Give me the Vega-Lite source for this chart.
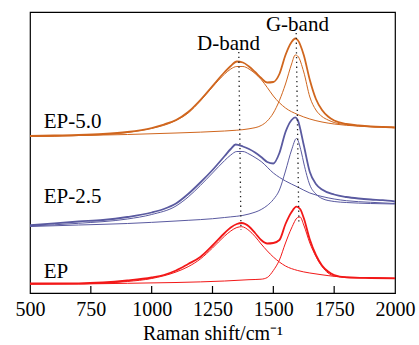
{
  "$schema": "https://vega.github.io/schema/vega-lite/v6.json",
  "width": 365,
  "height": 281,
  "autosize": {"type": "none"},
  "padding": {"left": 30, "top": 12, "right": 24, "bottom": 52},
  "background": "white",
  "config": {
    "view": {"stroke": "#000", "strokeWidth": 1.2},
    "font": "Liberation Serif",
    "axis": {"labelFont": "Liberation Serif", "titleFont": "Liberation Serif"},
    "text": {"font": "Liberation Serif"}
  },
  "datasets": {
    "spectra": [
      {"s":"EP-5.0","k":"raw","x":500,"v":157},{"s":"EP-5.0","k":"raw","x":600,"v":157.5},{"s":"EP-5.0","k":"raw","x":700,"v":158},{"s":"EP-5.0","k":"raw","x":800,"v":159},{"s":"EP-5.0","k":"raw","x":900,"v":161},{"s":"EP-5.0","k":"raw","x":1000,"v":165},{"s":"EP-5.0","k":"raw","x":1050,"v":168.5},{"s":"EP-5.0","k":"raw","x":1100,"v":173},{"s":"EP-5.0","k":"raw","x":1150,"v":181},{"s":"EP-5.0","k":"raw","x":1200,"v":193},{"s":"EP-5.0","k":"raw","x":1250,"v":207},{"s":"EP-5.0","k":"raw","x":1300,"v":221},{"s":"EP-5.0","k":"raw","x":1325,"v":227},{"s":"EP-5.0","k":"raw","x":1350,"v":231.5},{"s":"EP-5.0","k":"raw","x":1375,"v":230.5},{"s":"EP-5.0","k":"raw","x":1400,"v":226.5},{"s":"EP-5.0","k":"raw","x":1425,"v":221},{"s":"EP-5.0","k":"raw","x":1450,"v":215},{"s":"EP-5.0","k":"raw","x":1475,"v":210.5},{"s":"EP-5.0","k":"raw","x":1500,"v":211},{"s":"EP-5.0","k":"raw","x":1525,"v":219},{"s":"EP-5.0","k":"raw","x":1550,"v":238},{"s":"EP-5.0","k":"raw","x":1575,"v":251},{"s":"EP-5.0","k":"raw","x":1590,"v":254.5},{"s":"EP-5.0","k":"raw","x":1600,"v":253},{"s":"EP-5.0","k":"raw","x":1625,"v":238},{"s":"EP-5.0","k":"raw","x":1650,"v":213},{"s":"EP-5.0","k":"raw","x":1675,"v":194},{"s":"EP-5.0","k":"raw","x":1700,"v":183},{"s":"EP-5.0","k":"raw","x":1725,"v":176.5},{"s":"EP-5.0","k":"raw","x":1750,"v":172.5},{"s":"EP-5.0","k":"raw","x":1800,"v":169},{"s":"EP-5.0","k":"raw","x":1850,"v":167.5},{"s":"EP-5.0","k":"raw","x":1900,"v":166.5},{"s":"EP-5.0","k":"raw","x":1950,"v":166},{"s":"EP-5.0","k":"raw","x":2000,"v":165.7},

      {"s":"EP-5.0","k":"D","x":500,"v":156.5},{"s":"EP-5.0","k":"D","x":700,"v":157.5},{"s":"EP-5.0","k":"D","x":900,"v":160.5},{"s":"EP-5.0","k":"D","x":1000,"v":164.5},{"s":"EP-5.0","k":"D","x":1100,"v":172.5},{"s":"EP-5.0","k":"D","x":1150,"v":180},{"s":"EP-5.0","k":"D","x":1200,"v":192},{"s":"EP-5.0","k":"D","x":1250,"v":206},{"s":"EP-5.0","k":"D","x":1300,"v":219},{"s":"EP-5.0","k":"D","x":1325,"v":224},{"s":"EP-5.0","k":"D","x":1350,"v":226.5},{"s":"EP-5.0","k":"D","x":1375,"v":226.5},{"s":"EP-5.0","k":"D","x":1400,"v":224},{"s":"EP-5.0","k":"D","x":1425,"v":219.5},{"s":"EP-5.0","k":"D","x":1450,"v":213.5},{"s":"EP-5.0","k":"D","x":1475,"v":205.5},{"s":"EP-5.0","k":"D","x":1500,"v":197},{"s":"EP-5.0","k":"D","x":1550,"v":185},{"s":"EP-5.0","k":"D","x":1600,"v":178.5},{"s":"EP-5.0","k":"D","x":1650,"v":174},{"s":"EP-5.0","k":"D","x":1700,"v":171},{"s":"EP-5.0","k":"D","x":1750,"v":169},{"s":"EP-5.0","k":"D","x":1800,"v":167.7},{"s":"EP-5.0","k":"D","x":1900,"v":166.3},{"s":"EP-5.0","k":"D","x":2000,"v":165},

      {"s":"EP-5.0","k":"G","x":500,"v":156.5},{"s":"EP-5.0","k":"G","x":700,"v":157.5},{"s":"EP-5.0","k":"G","x":900,"v":158.5},{"s":"EP-5.0","k":"G","x":1100,"v":160},{"s":"EP-5.0","k":"G","x":1300,"v":162},{"s":"EP-5.0","k":"G","x":1350,"v":162.8},{"s":"EP-5.0","k":"G","x":1400,"v":164.2},{"s":"EP-5.0","k":"G","x":1450,"v":167.5},{"s":"EP-5.0","k":"G","x":1475,"v":172},{"s":"EP-5.0","k":"G","x":1500,"v":180},{"s":"EP-5.0","k":"G","x":1525,"v":192.5},{"s":"EP-5.0","k":"G","x":1550,"v":209},{"s":"EP-5.0","k":"G","x":1575,"v":229},{"s":"EP-5.0","k":"G","x":1590,"v":238},{"s":"EP-5.0","k":"G","x":1600,"v":237},{"s":"EP-5.0","k":"G","x":1625,"v":221},{"s":"EP-5.0","k":"G","x":1650,"v":196},{"s":"EP-5.0","k":"G","x":1675,"v":183},{"s":"EP-5.0","k":"G","x":1700,"v":176.5},{"s":"EP-5.0","k":"G","x":1725,"v":173},{"s":"EP-5.0","k":"G","x":1750,"v":170.5},{"s":"EP-5.0","k":"G","x":1800,"v":168.5},{"s":"EP-5.0","k":"G","x":1850,"v":167.3},{"s":"EP-5.0","k":"G","x":1900,"v":166.5},{"s":"EP-5.0","k":"G","x":2000,"v":165.7},

      {"s":"EP-2.5","k":"raw","x":500,"v":67.7},{"s":"EP-2.5","k":"raw","x":600,"v":69.7},{"s":"EP-2.5","k":"raw","x":700,"v":71.5},{"s":"EP-2.5","k":"raw","x":800,"v":73},{"s":"EP-2.5","k":"raw","x":900,"v":76},{"s":"EP-2.5","k":"raw","x":1000,"v":80.5},{"s":"EP-2.5","k":"raw","x":1050,"v":84},{"s":"EP-2.5","k":"raw","x":1100,"v":89.5},{"s":"EP-2.5","k":"raw","x":1150,"v":99},{"s":"EP-2.5","k":"raw","x":1200,"v":110.5},{"s":"EP-2.5","k":"raw","x":1250,"v":123},{"s":"EP-2.5","k":"raw","x":1300,"v":137},{"s":"EP-2.5","k":"raw","x":1325,"v":144},{"s":"EP-2.5","k":"raw","x":1345,"v":148.5},{"s":"EP-2.5","k":"raw","x":1375,"v":146.5},{"s":"EP-2.5","k":"raw","x":1400,"v":144},{"s":"EP-2.5","k":"raw","x":1425,"v":140.5},{"s":"EP-2.5","k":"raw","x":1450,"v":136},{"s":"EP-2.5","k":"raw","x":1475,"v":131},{"s":"EP-2.5","k":"raw","x":1500,"v":129.5},{"s":"EP-2.5","k":"raw","x":1525,"v":140},{"s":"EP-2.5","k":"raw","x":1550,"v":161},{"s":"EP-2.5","k":"raw","x":1575,"v":173},{"s":"EP-2.5","k":"raw","x":1590,"v":175.7},{"s":"EP-2.5","k":"raw","x":1600,"v":173},{"s":"EP-2.5","k":"raw","x":1625,"v":148},{"s":"EP-2.5","k":"raw","x":1650,"v":121},{"s":"EP-2.5","k":"raw","x":1675,"v":109},{"s":"EP-2.5","k":"raw","x":1700,"v":103.5},{"s":"EP-2.5","k":"raw","x":1750,"v":98.5},{"s":"EP-2.5","k":"raw","x":1800,"v":96},{"s":"EP-2.5","k":"raw","x":1850,"v":94.5},{"s":"EP-2.5","k":"raw","x":1900,"v":93.5},{"s":"EP-2.5","k":"raw","x":1950,"v":92.8},{"s":"EP-2.5","k":"raw","x":2000,"v":91.5},

      {"s":"EP-2.5","k":"D","x":500,"v":67},{"s":"EP-2.5","k":"D","x":700,"v":69.7},{"s":"EP-2.5","k":"D","x":900,"v":74},{"s":"EP-2.5","k":"D","x":1000,"v":78.5},{"s":"EP-2.5","k":"D","x":1100,"v":87},{"s":"EP-2.5","k":"D","x":1150,"v":96},{"s":"EP-2.5","k":"D","x":1200,"v":107.5},{"s":"EP-2.5","k":"D","x":1250,"v":120},{"s":"EP-2.5","k":"D","x":1300,"v":132.5},{"s":"EP-2.5","k":"D","x":1325,"v":138},{"s":"EP-2.5","k":"D","x":1350,"v":141.5},{"s":"EP-2.5","k":"D","x":1375,"v":141.5},{"s":"EP-2.5","k":"D","x":1400,"v":139},{"s":"EP-2.5","k":"D","x":1425,"v":135.5},{"s":"EP-2.5","k":"D","x":1450,"v":131.5},{"s":"EP-2.5","k":"D","x":1500,"v":120},{"s":"EP-2.5","k":"D","x":1550,"v":112},{"s":"EP-2.5","k":"D","x":1600,"v":106},{"s":"EP-2.5","k":"D","x":1650,"v":100},{"s":"EP-2.5","k":"D","x":1700,"v":96.5},{"s":"EP-2.5","k":"D","x":1750,"v":94},{"s":"EP-2.5","k":"D","x":1800,"v":92.3},{"s":"EP-2.5","k":"D","x":1900,"v":90.7},{"s":"EP-2.5","k":"D","x":2000,"v":89.5},

      {"s":"EP-2.5","k":"G","x":500,"v":66.5},{"s":"EP-2.5","k":"G","x":700,"v":68},{"s":"EP-2.5","k":"G","x":900,"v":69.5},{"s":"EP-2.5","k":"G","x":1100,"v":72},{"s":"EP-2.5","k":"G","x":1300,"v":75.5},{"s":"EP-2.5","k":"G","x":1400,"v":79},{"s":"EP-2.5","k":"G","x":1450,"v":83.5},{"s":"EP-2.5","k":"G","x":1475,"v":87.5},{"s":"EP-2.5","k":"G","x":1500,"v":93.5},{"s":"EP-2.5","k":"G","x":1525,"v":103},{"s":"EP-2.5","k":"G","x":1550,"v":122},{"s":"EP-2.5","k":"G","x":1575,"v":143},{"s":"EP-2.5","k":"G","x":1595,"v":154.5},{"s":"EP-2.5","k":"G","x":1615,"v":141},{"s":"EP-2.5","k":"G","x":1625,"v":130},{"s":"EP-2.5","k":"G","x":1650,"v":108},{"s":"EP-2.5","k":"G","x":1675,"v":99},{"s":"EP-2.5","k":"G","x":1700,"v":94.5},{"s":"EP-2.5","k":"G","x":1750,"v":91.5},{"s":"EP-2.5","k":"G","x":1800,"v":90.5},{"s":"EP-2.5","k":"G","x":1900,"v":89.5},{"s":"EP-2.5","k":"G","x":2000,"v":89},

      {"s":"EP","k":"raw","x":500,"v":9.7},{"s":"EP","k":"raw","x":600,"v":9.7},{"s":"EP","k":"raw","x":700,"v":9.7},{"s":"EP","k":"raw","x":800,"v":10.5},{"s":"EP","k":"raw","x":900,"v":12.5},{"s":"EP","k":"raw","x":1000,"v":15.5},{"s":"EP","k":"raw","x":1050,"v":18},{"s":"EP","k":"raw","x":1100,"v":22.5},{"s":"EP","k":"raw","x":1150,"v":29},{"s":"EP","k":"raw","x":1200,"v":36},{"s":"EP","k":"raw","x":1250,"v":47.5},{"s":"EP","k":"raw","x":1300,"v":60},{"s":"EP","k":"raw","x":1325,"v":65.5},{"s":"EP","k":"raw","x":1350,"v":69},{"s":"EP","k":"raw","x":1370,"v":70},{"s":"EP","k":"raw","x":1400,"v":66.5},{"s":"EP","k":"raw","x":1425,"v":60},{"s":"EP","k":"raw","x":1450,"v":53},{"s":"EP","k":"raw","x":1475,"v":49.5},{"s":"EP","k":"raw","x":1500,"v":50},{"s":"EP","k":"raw","x":1525,"v":53},{"s":"EP","k":"raw","x":1550,"v":69},{"s":"EP","k":"raw","x":1575,"v":81},{"s":"EP","k":"raw","x":1595,"v":86.3},{"s":"EP","k":"raw","x":1610,"v":84},{"s":"EP","k":"raw","x":1625,"v":75},{"s":"EP","k":"raw","x":1650,"v":53.5},{"s":"EP","k":"raw","x":1675,"v":38},{"s":"EP","k":"raw","x":1700,"v":27.5},{"s":"EP","k":"raw","x":1725,"v":21.5},{"s":"EP","k":"raw","x":1750,"v":18},{"s":"EP","k":"raw","x":1800,"v":15.7},{"s":"EP","k":"raw","x":1900,"v":15},{"s":"EP","k":"raw","x":2000,"v":14.7},

      {"s":"EP","k":"D","x":500,"v":9},{"s":"EP","k":"D","x":700,"v":9.2},{"s":"EP","k":"D","x":900,"v":11.5},{"s":"EP","k":"D","x":1000,"v":14.5},{"s":"EP","k":"D","x":1100,"v":21},{"s":"EP","k":"D","x":1150,"v":26.3},{"s":"EP","k":"D","x":1200,"v":34},{"s":"EP","k":"D","x":1250,"v":45},{"s":"EP","k":"D","x":1300,"v":57},{"s":"EP","k":"D","x":1325,"v":62},{"s":"EP","k":"D","x":1350,"v":65.5},{"s":"EP","k":"D","x":1370,"v":66.3},{"s":"EP","k":"D","x":1400,"v":62.5},{"s":"EP","k":"D","x":1425,"v":56.5},{"s":"EP","k":"D","x":1450,"v":49},{"s":"EP","k":"D","x":1500,"v":36},{"s":"EP","k":"D","x":1550,"v":27},{"s":"EP","k":"D","x":1600,"v":22.5},{"s":"EP","k":"D","x":1650,"v":20},{"s":"EP","k":"D","x":1700,"v":18.2},{"s":"EP","k":"D","x":1750,"v":16.7},{"s":"EP","k":"D","x":1800,"v":16},{"s":"EP","k":"D","x":1900,"v":15.2},{"s":"EP","k":"D","x":2000,"v":14.7},

      {"s":"EP","k":"G","x":500,"v":8.7},{"s":"EP","k":"G","x":700,"v":9},{"s":"EP","k":"G","x":900,"v":9.7},{"s":"EP","k":"G","x":1100,"v":10.5},{"s":"EP","k":"G","x":1300,"v":12},{"s":"EP","k":"G","x":1400,"v":13.3},{"s":"EP","k":"G","x":1450,"v":13.8},{"s":"EP","k":"G","x":1475,"v":15.5},{"s":"EP","k":"G","x":1500,"v":22.5},{"s":"EP","k":"G","x":1525,"v":33},{"s":"EP","k":"G","x":1550,"v":50},{"s":"EP","k":"G","x":1575,"v":65},{"s":"EP","k":"G","x":1600,"v":75.5},{"s":"EP","k":"G","x":1610,"v":76},{"s":"EP","k":"G","x":1625,"v":68},{"s":"EP","k":"G","x":1650,"v":50},{"s":"EP","k":"G","x":1675,"v":36.5},{"s":"EP","k":"G","x":1700,"v":26.5},{"s":"EP","k":"G","x":1725,"v":20},{"s":"EP","k":"G","x":1750,"v":17},{"s":"EP","k":"G","x":1800,"v":15.5},{"s":"EP","k":"G","x":1900,"v":15},{"s":"EP","k":"G","x":2000,"v":14.7}
    ],
    "guides": [
      {"band":"D","x":1358,"v":241},{"band":"D","x":1367,"v":63},
      {"band":"G","x":1594,"v":260},{"band":"G","x":1605,"v":68}
    ],
    "ticks": [{"t":750},{"t":1000},{"t":1250},{"t":1500},{"t":1750}],
    "sampleLabels": [
      {"label":"EP-5.0","x":556,"v":171},
      {"label":"EP-2.5","x":556,"v":96},
      {"label":"EP","x":556,"v":21}
    ],
    "bandLabels": [
      {"label":"D-band","x":1316,"v":249},
      {"label":"G-band","x":1599,"v":268}
    ]
  },
  "layer": [
    {
      "data": {"name": "spectra"},
      "transform": [{"filter": "datum.k !== 'raw'"}],
      "mark": {"type": "line", "strokeWidth": 1, "interpolate": "monotone", "clip": true},
      "encoding": {
        "x": {"field": "x", "type": "quantitative", "scale": {"domain": [500, 2000], "nice": false},
          "axis": {"values": [500, 750, 1000, 1250, 1500, 1750, 2000], "format": "d", "grid": false, "domainColor": "#000", "domainWidth": 1.2, "ticks": false, "labelFont": "Liberation Serif", "labelFontSize": 20, "labelColor": "#000", "labelPadding": 6, "labelFlush": false, "labelOverlap": false, "title": "Raman shift/cm⁻¹", "titleFont": "Liberation Serif", "titleFontSize": 20, "titleFontWeight": "normal", "titleColor": "#000", "titlePadding": 4.5}},
        "y": {"field": "v", "type": "quantitative", "scale": {"domain": [0, 281], "nice": false}, "axis": null},
        "color": {"field": "s", "type": "nominal", "scale": {"domain": ["EP", "EP-2.5", "EP-5.0"], "range": ["#F21818", "#5A5AA0", "#D0661E"]}, "legend": null},
        "detail": {"field": "k"}
      }
    },
    {
      "data": {"name": "spectra"},
      "transform": [{"filter": "datum.k === 'raw'"}],
      "mark": {"type": "line", "strokeWidth": 1.8, "interpolate": "monotone", "clip": true},
      "encoding": {
        "x": {"field": "x", "type": "quantitative"},
        "y": {"field": "v", "type": "quantitative"},
        "color": {"field": "s", "type": "nominal", "legend": null}
      }
    },
    {
      "data": {"name": "ticks"},
      "mark": {"type": "rule", "stroke": "#000", "strokeWidth": 1.2},
      "encoding": {
        "x": {"field": "t", "type": "quantitative"},
        "y": {"datum": 0},
        "y2": {"datum": 7}
      }
    },
    {
      "data": {"name": "guides"},
      "mark": {"type": "line", "stroke": "#222", "strokeWidth": 1.3, "strokeDash": [1.3, 3.5]},
      "encoding": {
        "x": {"field": "x", "type": "quantitative"},
        "y": {"field": "v", "type": "quantitative"},
        "detail": {"field": "band"}
      }
    },
    {
      "data": {"name": "sampleLabels"},
      "mark": {"type": "text", "align": "left", "baseline": "middle", "font": "Liberation Serif", "fontSize": 21, "color": "#000"},
      "encoding": {
        "x": {"field": "x", "type": "quantitative"},
        "y": {"field": "v", "type": "quantitative"},
        "text": {"field": "label"}
      }
    },
    {
      "data": {"name": "bandLabels"},
      "mark": {"type": "text", "align": "center", "baseline": "middle", "font": "Liberation Serif", "fontSize": 21, "color": "#000"},
      "encoding": {
        "x": {"field": "x", "type": "quantitative"},
        "y": {"field": "v", "type": "quantitative"},
        "text": {"field": "label"}
      }
    }
  ]
}
